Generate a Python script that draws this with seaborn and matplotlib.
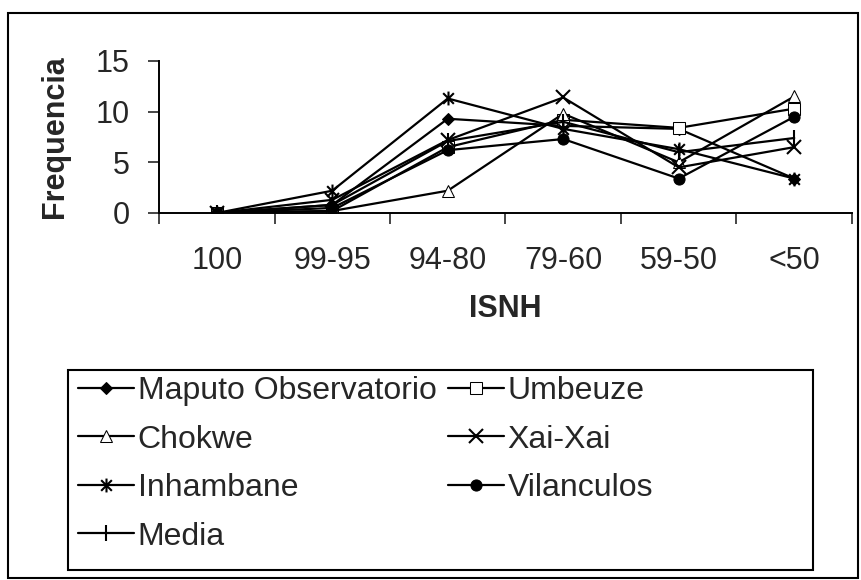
import numpy as np
import pandas as pd
import matplotlib
matplotlib.use("Agg")
import matplotlib.pyplot as plt
import seaborn as sns
from matplotlib.patches import Rectangle
from matplotlib.path import Path

# data
categories = ["100", "99-95", "94-80", "79-60", "59-50", "<50"]

maputo = [0, 0.8, 9.3, 8.6, 8.3, 3.4]
umbeuze = [0, 0.2, 6.5, 9.2, 8.4, 10.3]
chokwe = [0, 0.2, 2.2, 9.8, 5.0, 11.5]
xai_xai = [0, 1.3, 7.2, 11.4, 4.5, 6.5]
inhambane = [0, 2.2, 11.3, 8.3, 6.3, 3.4]
vilanculos = [0, 0.5, 6.2, 7.3, 3.4, 9.5]
media = [0, 0.8, 7.1, 9.0, 6.0, 7.4]

series_names = ["Maputo Observatorio", "Umbeuze", "Chokwe", "Xai-Xai",
                "Inhambane", "Vilanculos", "Media"]
series_values = [maputo, umbeuze, chokwe, xai_xai, inhambane, vilanculos, media]

# Excel "star" marker: an x with a vertical bar through it
star = Path([(-1, -1), (1, 1), (-1, 1), (1, -1), (0, -1.3), (0, 1.3)],
            [Path.MOVETO, Path.LINETO, Path.MOVETO, Path.LINETO,
             Path.MOVETO, Path.LINETO])

styles = {
    "Maputo Observatorio": dict(marker="D", ms=6, mfc="black"),
    "Umbeuze": dict(marker="s", ms=8, mfc="white"),
    "Chokwe": dict(marker="^", ms=8, mfc="white"),
    "Xai-Xai": dict(marker="x", ms=10, mew=1.5),
    "Inhambane": dict(marker=star, ms=10, mew=1.5),
    "Vilanculos": dict(marker="o", ms=8, mfc="black"),
    "Media": dict(marker="|", ms=11, mew=1.5),
}

sns.set_style("ticks")
plt.rcParams["font.family"] = ["Liberation Sans", "DejaVu Sans"]

fig = plt.figure(figsize=(8.62, 5.8), dpi=100)
ax = fig.add_axes([159 / 862, 1 - 213 / 580, (852 - 159) / 862, (213 - 61) / 580])

for name, vals in zip(series_names, series_values):
    df = pd.DataFrame({"ISNH": categories, "Frequencia": vals})
    sns.lineplot(data=df, x="ISNH", y="Frequencia", ax=ax, sort=False,
                 color="black", lw=1.6, mec="black", label=name,
                 **styles[name])

ax.set_xlim(-0.5, len(categories) - 0.5)
ax.set_ylim(0, 15)
ax.set_yticks([0, 5, 10, 15])

# ticks between categories, labels at centers
ax.set_xticks(np.arange(len(categories) + 1) - 0.5, minor=True)
ax.tick_params(axis="x", which="major", length=0, pad=24, labelsize=22)
ax.tick_params(axis="x", which="minor", length=8, width=1.2, direction="out")
ax.tick_params(axis="y", length=8, width=1.2, pad=13, labelsize=22)

for s in ["top", "right"]:
    ax.spines[s].set_visible(False)
for s in ["left", "bottom"]:
    ax.spines[s].set_linewidth(1.4)
    ax.spines[s].set_color("black")

ax.set_xlabel("ISNH", fontsize=22, fontweight="bold")
ax.xaxis.set_label_coords(0.5, -0.53)
ax.set_ylabel("Frequencia", fontsize=22, fontweight="bold")
ax.yaxis.set_label_coords(-0.128, 0.5)

# legend in Excel order (row-major with 2 columns)
handles, labels = ax.get_legend_handles_labels()
order = [0, 2, 4, 6, 1, 3, 5]
leg = ax.legend([handles[i] for i in order], [labels[i] for i in order],
                ncol=2, loc="upper left",
                bbox_to_anchor=(78 / 862, 1 - 376 / 580),
                bbox_transform=fig.transFigure,
                fontsize=23, frameon=False, handlelength=1.75,
                handletextpad=0.12, columnspacing=0.35, labelspacing=0.58,
                borderpad=0, borderaxespad=0)

# legend box (wider than its content, as in the original)
fig.patches.append(Rectangle((68 / 862, 1 - 570 / 580), 745 / 862, 200 / 580,
                             transform=fig.transFigure, fill=False,
                             edgecolor="black", lw=1.5))

# outer chart border
fig.patches.append(Rectangle((8 / 862, 2 / 580), 850 / 862, 565 / 580,
                             transform=fig.transFigure, fill=False,
                             edgecolor="black", lw=1.5))

fig.savefig("out.png", dpi=100)
